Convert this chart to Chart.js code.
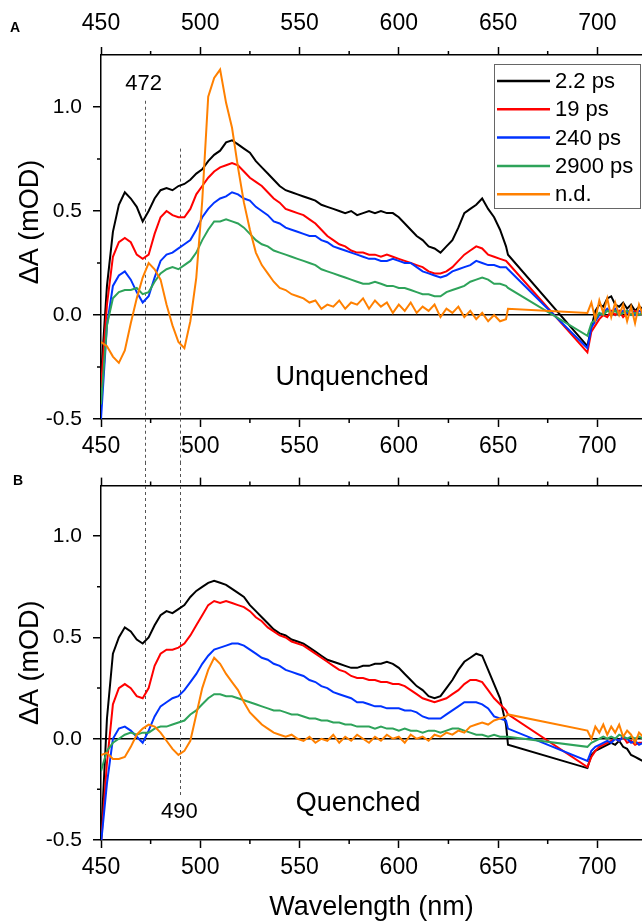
<!DOCTYPE html>
<html lang="en">
<head>
  <meta charset="UTF-8">
  <title>Transient absorption spectra</title>
  <style>
    body {
      margin: 0;
      background: #fff;
      overflow: hidden;
    }
    .panel {
      position: absolute;
      left: 0;
      width: 642px;
      height: 462px;
    }
    #panelA { top: 0; }
    #panelB { top: 462px; }
  </style>
  <script src="https://cdn.jsdelivr.net/npm/chart.js"></script>
</head>
<body>
  <div class="panel" id="panelA"><canvas id="chartA" width="642" height="462"></canvas></div>
  <div class="panel" id="panelB"><canvas id="chartB" width="642" height="462"></canvas></div>

  <script>
    // wavelength grid (nm); the gap 655-695 is bridged by straight lines
    const wavelengths = [
      450, 453, 456, 459, 462, 465, 468, 471, 474, 477,
      480, 483, 486, 489, 492, 495, 498, 501, 504, 507,
      510, 513, 516, 519, 522, 525, 528, 531, 534, 537,
      540, 543, 546, 549, 552, 555, 558, 561, 564, 567,
      570, 573, 576, 579, 582, 585, 588, 591, 594, 597,
      600, 603, 606, 609, 612, 615, 618, 621, 624, 627,
      630, 633, 636, 639, 642, 645, 648, 651, 654, 655,
      695, 697, 699, 701, 703, 705, 707, 709, 711, 713,
      715, 717, 719, 721, 723
    ];

    const seriesNames = ['2.2 ps', '19 ps', '240 ps', '2900 ps', 'n.d.'];
    const seriesColors = ['#000000', '#ff0000', '#0033ff', '#2ea35a', '#ff8000'];

    const xMin = 450, xMax = 722.5;
    const yMin = -0.5, yMax = 1.25;
    const xMinorTicks = [475, 525, 575, 625, 675];
    const yMinorTicks = [-0.25, 0.25, 0.75];

    // ---- Panel A: unquenched ----
    const unq2p2ps = [
      -0.30, 0.14, 0.40, 0.53, 0.59, 0.56, 0.52, 0.45, 0.50, 0.56,
      0.60, 0.61, 0.60, 0.62, 0.63, 0.65, 0.68, 0.70, 0.74, 0.77,
      0.79, 0.83, 0.84, 0.82, 0.80, 0.78, 0.74, 0.71, 0.68, 0.65,
      0.62, 0.60, 0.59, 0.58, 0.57, 0.56, 0.55, 0.53, 0.52, 0.51,
      0.50, 0.49, 0.50, 0.48, 0.49, 0.50, 0.49, 0.50, 0.49, 0.49,
      0.47, 0.44, 0.41, 0.38, 0.36, 0.33, 0.32, 0.30, 0.33, 0.36,
      0.42, 0.49, 0.51, 0.53, 0.56, 0.51, 0.47, 0.41, 0.33, 0.29,
      -0.15, -0.06, 0.02, 0.05, 0.04, 0.08, 0.09, 0.05, 0.04, 0.06,
      0.03, 0.05, 0.02, 0.04, 0.03
    ];
    const unq19ps = [
      -0.35, 0.05, 0.28, 0.35, 0.37, 0.35, 0.29, 0.27, 0.29, 0.39,
      0.47, 0.50, 0.48, 0.47, 0.47, 0.51, 0.58, 0.62, 0.66, 0.69,
      0.71, 0.72, 0.73, 0.72, 0.69, 0.66, 0.64, 0.62, 0.59, 0.56,
      0.54, 0.51, 0.50, 0.49, 0.48, 0.46, 0.44, 0.41, 0.38, 0.36,
      0.34, 0.33, 0.31, 0.30, 0.30, 0.29, 0.29, 0.28, 0.29, 0.28,
      0.27, 0.26, 0.25, 0.24, 0.23, 0.21, 0.20, 0.20, 0.21, 0.23,
      0.26, 0.29, 0.31, 0.33, 0.32, 0.29, 0.28, 0.27, 0.26, 0.25,
      -0.18, -0.08, -0.05, -0.02, 0.00, -0.01, 0.02, 0.00, 0.02, -0.01,
      0.01, 0.00, 0.02, 0.00, 0.01
    ];
    const unq240ps = [
      -0.50, -0.05, 0.14, 0.19, 0.21, 0.17, 0.11, 0.06, 0.09, 0.18,
      0.26, 0.29, 0.30, 0.32, 0.34, 0.36, 0.41, 0.47, 0.51, 0.54,
      0.56, 0.57, 0.59, 0.58, 0.56, 0.55, 0.52, 0.50, 0.48, 0.45,
      0.44, 0.42, 0.41, 0.40, 0.39, 0.38, 0.38, 0.36, 0.35, 0.33,
      0.32, 0.31, 0.30, 0.29, 0.28, 0.27, 0.27, 0.26, 0.26, 0.27,
      0.26, 0.25, 0.25, 0.23, 0.21, 0.20, 0.19, 0.18, 0.19, 0.21,
      0.22, 0.23, 0.24, 0.26, 0.25, 0.24, 0.24, 0.23, 0.23, 0.22,
      -0.16, -0.06, -0.03, 0.00, 0.01, 0.03, 0.01, 0.03, 0.00, 0.02,
      0.01, 0.03, 0.00, 0.02, 0.01
    ];
    const unq2900ps = [
      -0.43, -0.05, 0.08, 0.11, 0.12, 0.12, 0.13, 0.10, 0.11, 0.16,
      0.20, 0.22, 0.23, 0.22, 0.24, 0.26, 0.30, 0.36, 0.41, 0.45,
      0.45, 0.46, 0.45, 0.44, 0.42, 0.39, 0.36, 0.34, 0.33, 0.31,
      0.30, 0.29, 0.28, 0.27, 0.26, 0.25, 0.24, 0.22, 0.21, 0.20,
      0.19, 0.18, 0.17, 0.16, 0.15, 0.15, 0.16, 0.15, 0.14, 0.14,
      0.13, 0.13, 0.12, 0.11, 0.10, 0.10, 0.09, 0.09, 0.11, 0.12,
      0.13, 0.14, 0.16, 0.17, 0.18, 0.17, 0.15, 0.15, 0.14, 0.13,
      -0.10, -0.04, -0.02, 0.01, 0.00, 0.02, 0.01, 0.02, 0.00, 0.01,
      0.02, 0.00, 0.01, 0.00, 0.01
    ];
    const unqND = [
      -0.13, -0.15, -0.20, -0.23, -0.17, -0.04, 0.08, 0.18, 0.25, 0.22,
      0.17, 0.05, -0.05, -0.13, -0.16, -0.03, 0.18, 0.55, 1.05, 1.14,
      1.18, 1.02, 0.90, 0.71, 0.54, 0.41, 0.30, 0.24, 0.20, 0.16,
      0.13, 0.12, 0.10, 0.09, 0.08, 0.06, 0.07, 0.03, 0.05, 0.04,
      0.07, 0.03, 0.06, 0.05, 0.08, 0.03, 0.07, 0.04, 0.06, 0.01,
      0.05, 0.02, 0.06, 0.01, 0.04, 0.02, 0.05, -0.01, 0.03, 0.01,
      0.04, -0.01, 0.02, -0.02, 0.01, -0.03, 0.00, -0.03, -0.02, 0.03,
      0.01, 0.06, -0.02, 0.07, 0.01, 0.08, -0.01, 0.06, 0.00, 0.05,
      -0.03, 0.04, -0.04, 0.05, 0.00
    ];

    // ---- Panel B: quenched ----
    const q2p2ps = [
      -0.50, 0.10, 0.42, 0.50, 0.55, 0.53, 0.49, 0.47, 0.50, 0.56,
      0.61, 0.63, 0.62, 0.64, 0.66, 0.70, 0.73, 0.75, 0.77, 0.78,
      0.77, 0.76, 0.74, 0.72, 0.70, 0.66, 0.63, 0.60, 0.57, 0.54,
      0.52, 0.51, 0.49, 0.48, 0.47, 0.45, 0.43, 0.41, 0.39, 0.38,
      0.37, 0.36, 0.35, 0.35, 0.36, 0.36, 0.37, 0.37, 0.38, 0.37,
      0.35, 0.32, 0.29, 0.26, 0.24, 0.21, 0.20, 0.21, 0.25, 0.29,
      0.34, 0.38, 0.40, 0.42, 0.41, 0.34, 0.27, 0.20, 0.07, -0.03,
      -0.145, -0.08, -0.06, -0.05, -0.04, -0.03, -0.02, -0.03, -0.01, -0.04,
      -0.05, -0.08, -0.09, -0.10, -0.11
    ];
    const q19ps = [
      -0.52, -0.12, 0.17, 0.25, 0.27, 0.25, 0.21, 0.20, 0.25, 0.36,
      0.42, 0.44, 0.44, 0.45, 0.47, 0.51, 0.56, 0.61, 0.66, 0.68,
      0.67, 0.68, 0.67, 0.66, 0.65, 0.63, 0.60, 0.58, 0.55, 0.53,
      0.51, 0.50, 0.48, 0.47, 0.46, 0.44, 0.42, 0.40, 0.38, 0.36,
      0.34, 0.33, 0.31, 0.30, 0.30, 0.29, 0.29, 0.28, 0.28, 0.27,
      0.27, 0.26, 0.24, 0.22, 0.20, 0.19, 0.18, 0.19, 0.20, 0.22,
      0.24, 0.27, 0.29, 0.29, 0.28, 0.24, 0.20, 0.17, 0.14, 0.12,
      -0.14, -0.09, -0.06, -0.04, -0.03, -0.02, -0.01, 0.00, -0.01, 0.01,
      -0.02, -0.01, -0.03, -0.02, -0.02
    ];
    const q240ps = [
      -0.52, -0.22, 0.00, 0.05, 0.06, 0.04, 0.01, -0.02, 0.04, 0.11,
      0.16, 0.18, 0.20, 0.21, 0.24, 0.28, 0.32, 0.37, 0.41, 0.44,
      0.45, 0.46, 0.47, 0.47, 0.46, 0.44, 0.42, 0.40, 0.39, 0.37,
      0.36, 0.34, 0.33, 0.32, 0.31, 0.29, 0.28, 0.26, 0.25, 0.23,
      0.22, 0.21, 0.20, 0.18, 0.18, 0.17, 0.16, 0.16, 0.15, 0.15,
      0.15, 0.14, 0.14, 0.13, 0.11, 0.10, 0.10, 0.10, 0.12, 0.14,
      0.16, 0.18, 0.18, 0.18, 0.17, 0.15, 0.11, 0.10, 0.09, 0.05,
      -0.11, -0.06, -0.04, -0.03, -0.02, -0.01, -0.02, 0.00, -0.01, 0.01,
      0.00, -0.02, -0.01, -0.03, -0.02
    ];
    const q2900ps = [
      -0.16, -0.06, -0.02, 0.00, 0.02, 0.03, 0.02, 0.03, 0.03, 0.05,
      0.06, 0.06, 0.07, 0.08, 0.09, 0.12, 0.14, 0.17, 0.20, 0.22,
      0.22, 0.21, 0.21, 0.20, 0.19, 0.18, 0.17, 0.16, 0.15, 0.14,
      0.14, 0.13, 0.12, 0.12, 0.11, 0.10, 0.10, 0.09, 0.09, 0.08,
      0.08, 0.07, 0.07, 0.06, 0.06, 0.06, 0.05, 0.06, 0.05, 0.05,
      0.04, 0.05, 0.04, 0.04, 0.03, 0.04, 0.04, 0.03, 0.04, 0.05,
      0.05, 0.04, 0.03, 0.02, 0.02, 0.01, 0.02, 0.01, 0.01, 0.01,
      -0.04, -0.02, -0.01, 0.00, 0.01, 0.00, 0.01, 0.00, 0.02, 0.01,
      0.00, 0.01, 0.00, 0.01, 0.00
    ];
    const qND = [
      -0.08, -0.07, -0.10, -0.10, -0.09, -0.04, 0.02, 0.05, 0.07, 0.06,
      0.03, -0.01, -0.05, -0.08, -0.06, -0.01, 0.12, 0.25, 0.34, 0.40,
      0.37, 0.32, 0.28, 0.24, 0.18, 0.13, 0.10, 0.07, 0.05, 0.03,
      0.02, 0.01, 0.02, 0.00, -0.01, 0.01, -0.02, 0.00, -0.01, 0.02,
      -0.02, 0.01, -0.01, 0.02, 0.00, -0.02, 0.01, -0.01, 0.02, 0.00,
      0.01, -0.02, 0.02, 0.00, 0.01, -0.01, 0.02, 0.01, 0.03, 0.02,
      0.04, 0.03, 0.06, 0.07, 0.08, 0.07, 0.09, 0.10, 0.11, 0.12,
      0.04, 0.00, 0.06, 0.03, 0.07, 0.02, 0.06, 0.03, 0.07, 0.01,
      0.04, 0.02, -0.02, 0.03, 0.01
    ];

    const fontFamily = '"Liberation Sans", Arial, sans-serif';

    // draws minor ticks, dashed guides, text notes, panel letter and the legend
    const panelDecor = {
      id: 'panelDecor',
      beforeDatasetsDraw(chart, args, o) {
        const ctx = chart.ctx;
        const x = chart.scales.x, y = chart.scales.y;
        ctx.save();
        ctx.strokeStyle = '#555';
        ctx.lineWidth = 1;
        ctx.setLineDash([3, 3]);
        o.guides.forEach(g => {
          const px = Math.round(x.getPixelForValue(g.at)) + 0.5;
          const y0 = g.from === 'top' ? 0 : y.getPixelForValue(g.from);
          const y1 = g.to === 'bottom' ? chart.height : y.getPixelForValue(g.to);
          ctx.beginPath();
          ctx.moveTo(px, y0);
          ctx.lineTo(px, y1);
          ctx.stroke();
        });
        ctx.restore();
      },
      afterDraw(chart, args, o) {
        const ctx = chart.ctx;
        const x = chart.scales.x, y = chart.scales.y;
        const area = chart.chartArea;
        ctx.save();

        // minor ticks
        ctx.strokeStyle = '#000';
        ctx.lineWidth = 1.5;
        ctx.beginPath();
        xMinorTicks.forEach(v => {
          const px = x.getPixelForValue(v);
          ctx.moveTo(px, area.bottom);
          ctx.lineTo(px, area.bottom + 4);
          ctx.moveTo(px, area.top);
          ctx.lineTo(px, area.top - 4);
        });
        yMinorTicks.forEach(v => {
          const py = y.getPixelForValue(v);
          ctx.moveTo(area.left, py);
          ctx.lineTo(area.left - 4, py);
        });
        ctx.stroke();

        // text notes in data coordinates
        ctx.fillStyle = '#000';
        ctx.textAlign = 'center';
        ctx.textBaseline = 'middle';
        o.notes.forEach(n => {
          ctx.font = n.size + 'px ' + fontFamily;
          ctx.fillText(n.text, x.getPixelForValue(n.x), y.getPixelForValue(n.y));
        });

        // panel letter
        ctx.font = 'bold 14px ' + fontFamily;
        ctx.fillText(o.letter, o.letterX, o.letterY);

        // legend box
        if (o.legend) {
          const w = 146, h = 144;
          const left = area.right - w - 2, top = area.top + 9;
          ctx.strokeStyle = '#666';
          ctx.lineWidth = 1;
          ctx.strokeRect(left + 0.5, top + 0.5, w, h);
          ctx.font = '22px ' + fontFamily;
          ctx.textAlign = 'left';
          chart.data.datasets.forEach((ds, i) => {
            const cy = top + 17 + i * 28.3;
            ctx.strokeStyle = ds.borderColor;
            ctx.lineWidth = 2.5;
            ctx.beginPath();
            ctx.moveTo(left + 3, cy);
            ctx.lineTo(left + 56, cy);
            ctx.stroke();
            ctx.fillText(ds.label, left + 61, cy + 1);
          });
        }
        ctx.restore();
      }
    };

    function buildPanel(canvasId, series, deco) {
      const datasets = series.map((vals, i) => ({
        label: seriesNames[i],
        data: wavelengths.map((w, j) => ({ x: w, y: vals[j] })),
        borderColor: seriesColors[i],
        backgroundColor: seriesColors[i],
        borderWidth: 2,
        pointRadius: 0,
        tension: 0,
        order: series.length - i
      }));

      const axisBorder = { display: true, color: '#000', width: 1.5 };
      const tickGrid = { drawOnChartArea: false, tickLength: 8, tickWidth: 1.5, tickColor: '#000' };

      return new Chart(document.getElementById(canvasId), {
        type: 'line',
        data: { datasets: datasets },
        plugins: [panelDecor],
        options: {
          responsive: false,
          animation: false,
          layout: { padding: 0 },
          plugins: {
            legend: { display: false },
            tooltip: { enabled: false },
            panelDecor: deco
          },
          scales: {
            x: {
              type: 'linear',
              position: 'bottom',
              min: xMin,
              max: xMax,
              afterFit: s => { s.height = deco.bottomHeight; },
              border: axisBorder,
              grid: tickGrid,
              ticks: {
                stepSize: 50,
                includeBounds: false,
                maxRotation: 0,
                autoSkip: false,
                padding: 6,
                color: '#000',
                font: { family: fontFamily, size: 23 }
              },
              title: {
                display: deco.showXTitle,
                text: 'Wavelength (nm)',
                color: '#000',
                font: { family: fontFamily, size: 27 },
                padding: { top: 0, bottom: 0 }
              }
            },
            x2: {
              type: 'linear',
              position: 'top',
              min: xMin,
              max: xMax,
              afterFit: s => { s.height = deco.topHeight; },
              border: axisBorder,
              grid: tickGrid,
              ticks: {
                display: deco.topLabels,
                stepSize: 50,
                includeBounds: false,
                maxRotation: 0,
                autoSkip: false,
                padding: 10,
                color: '#000',
                font: { family: fontFamily, size: 23 }
              }
            },
            y: {
              type: 'linear',
              min: yMin,
              max: yMax,
              afterFit: s => { s.width = 101; },
              border: axisBorder,
              grid: {
                color: c => (c.tick && c.tick.value === 0) ? '#000' : 'rgba(0,0,0,0)',
                lineWidth: 1.5,
                tickLength: 8,
                tickWidth: 1.5,
                tickColor: '#000'
              },
              ticks: {
                stepSize: 0.5,
                includeBounds: false,
                padding: 11,
                color: '#000',
                font: { family: fontFamily, size: 21 },
                callback: v => v.toFixed(1)
              },
              title: {
                display: true,
                text: deco.yTitle,
                color: '#000',
                font: { family: fontFamily, size: 27 },
                padding: { top: 14, bottom: 0 }
              }
            }
          }
        }
      });
    }

    buildPanel('chartA', [unq2p2ps, unq19ps, unq240ps, unq2900ps, unqND], {
      topHeight: 55,
      bottomHeight: 43,
      topLabels: true,
      showXTitle: false,
      yTitle: '    ΔA (mOD)',
      legend: true,
      letter: 'A',
      letterX: 15,
      letterY: 28,
      guides: [
        { at: 472, from: 1.03, to: 'bottom' },
        { at: 490, from: 0.80, to: 'bottom' }
      ],
      notes: [
        { text: '472', x: 471.5, y: 1.11, size: 22 },
        { text: 'Unquenched', x: 576.5, y: -0.30, size: 27 }
      ]
    });

    buildPanel('chartB', [q2p2ps, q19ps, q240ps, q2900ps, qND], {
      topHeight: 14,
      bottomHeight: 84,
      topLabels: false,
      showXTitle: true,
      yTitle: 'ΔA (mOD)',
      legend: false,
      letter: 'B',
      letterX: 18,
      letterY: 19,
      guides: [
        { at: 472, from: 'top', to: -0.03 },
        { at: 490, from: 'top', to: -0.28 }
      ],
      notes: [
        { text: '490', x: 489.5, y: -0.36, size: 22 },
        { text: 'Quenched', x: 579.5, y: -0.32, size: 27 }
      ]
    });
  </script>
</body>
</html>
